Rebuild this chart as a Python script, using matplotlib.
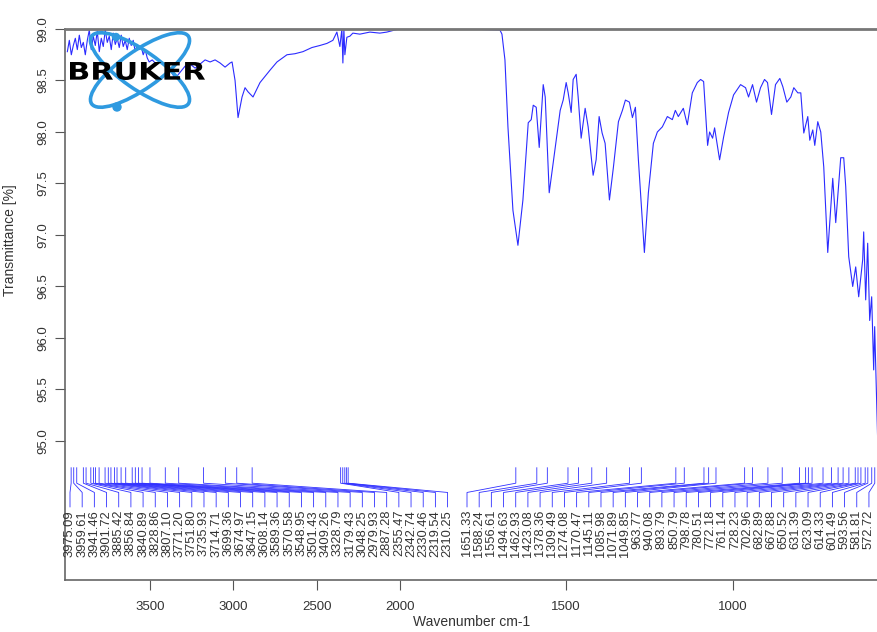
import numpy as np
import matplotlib
matplotlib.use("Agg")
import matplotlib.pyplot as plt
from matplotlib.patches import Ellipse, Circle, PathPatch
from matplotlib.textpath import TextPath
from matplotlib.font_manager import FontProperties
from matplotlib.transforms import Affine2D

plt.rcParams['font.family'] = ['Liberation Sans Narrow', 'Liberation Sans', 'DejaVu Sans']

# spectrum (wavenumber cm-1, transmittance %)
wavenumber = [3998, 3986, 3974, 3962, 3950, 3938, 3926, 3914, 3902, 3890,
              3878, 3866, 3854, 3842, 3830, 3818, 3806, 3794, 3782, 3770,
              3758, 3746, 3734, 3722, 3710, 3698, 3686, 3674, 3662, 3650,
              3638, 3626, 3614, 3602, 3590, 3578, 3566, 3554, 3542, 3530,
              3518, 3506, 3488, 3464, 3440, 3410, 3380, 3350, 3320, 3290,
              3260, 3230, 3200, 3170, 3140, 3110, 3080, 3050, 3020, 3008,
              2990, 2972, 2948, 2930, 2912, 2882, 2840, 2810, 2780, 2738,
              2678, 2630, 2582, 2528, 2480, 2438, 2402, 2378, 2360, 2348,
              2342, 2336, 2330, 2318, 2300, 2282, 2240, 2180, 2120, 2078,
              2030, 2000, 1900, 1800, 1699, 1693, 1684, 1675, 1660, 1645,
              1630, 1614, 1605, 1599, 1590, 1581, 1569, 1563, 1551, 1533,
              1518, 1509, 1500, 1494, 1485, 1479, 1470, 1464, 1455, 1443,
              1434, 1419, 1410, 1401, 1392, 1383, 1370, 1358, 1343, 1331,
              1322, 1310, 1301, 1292, 1283, 1265, 1253, 1238, 1226, 1211,
              1196, 1181, 1172, 1163, 1148, 1136, 1121, 1106, 1096, 1087,
              1075, 1069, 1060, 1054, 1039, 1027, 1012, 997, 976, 961,
              952, 940, 928, 916, 904, 895, 883, 871, 858, 849,
              837, 825, 816, 804, 795, 786, 774, 768, 759, 753,
              744, 735, 726, 714, 699, 690, 675, 666, 660, 651,
              639, 630, 621, 609, 606, 600, 594, 588, 582, 576,
              573, 567, 564]
transmittance = [98.78, 98.89, 98.75, 98.84, 98.91, 98.80, 98.94, 98.82, 98.87, 98.75,
                 98.89, 98.99, 98.80, 98.93, 98.84, 98.98, 98.78, 98.91, 98.83, 98.99,
                 98.87, 98.93, 98.80, 98.96, 98.85, 98.91, 98.82, 98.94, 98.83, 98.89,
                 98.80, 98.91, 98.84, 98.89, 98.78, 98.85, 98.80, 98.83, 98.75, 98.80,
                 98.72, 98.68, 98.70, 98.66, 98.68, 98.64, 98.60, 98.52, 98.58, 98.64,
                 98.66, 98.62, 98.66, 98.70, 98.68, 98.70, 98.67, 98.63, 98.67, 98.68,
                 98.50, 98.14, 98.34, 98.43, 98.39, 98.34, 98.48, 98.54, 98.60, 98.68,
                 98.75, 98.76, 98.78, 98.82, 98.84, 98.86, 98.89, 98.97, 98.83, 99.00,
                 98.67, 99.00, 98.75, 98.92, 98.93, 98.96, 98.95, 98.97, 98.96, 98.97,
                 98.99, 99.00, 99.00, 99.00, 98.99, 98.95, 98.70, 98.05, 97.24, 96.90,
                 97.34, 98.09, 98.12, 98.26, 98.24, 97.85, 98.46, 98.34, 97.41, 97.85,
                 98.21, 98.31, 98.48, 98.38, 98.19, 98.51, 98.56, 98.34, 97.94, 98.23,
                 98.05, 97.58, 97.73, 98.15, 97.99, 97.89, 97.34, 97.66, 98.10, 98.21,
                 98.31, 98.29, 98.14, 98.24, 97.73, 96.83, 97.41, 97.89, 98.00, 98.05,
                 98.15, 98.12, 98.21, 98.15, 98.23, 98.07, 98.38, 98.48, 98.51, 98.49,
                 97.87, 98.00, 97.94, 98.04, 97.73, 97.95, 98.19, 98.36, 98.46, 98.43,
                 98.34, 98.46, 98.29, 98.43, 98.51, 98.48, 98.17, 98.46, 98.52, 98.44,
                 98.29, 98.34, 98.43, 98.38, 98.38, 97.99, 98.15, 97.92, 98.02, 97.87,
                 98.10, 98.00, 97.66, 96.83, 97.55, 97.12, 97.75, 97.75, 97.47, 96.79,
                 96.50, 96.69, 96.40, 96.76, 97.03, 96.37, 96.92, 96.17, 96.40, 95.69,
                 96.11, 95.40, 95.01]

peaks_high = [3975.09, 3959.61, 3941.46, 3901.72, 3885.42, 3856.84, 3840.89, 3828.86,
              3807.10, 3771.20, 3751.80, 3735.93, 3714.71, 3699.36, 3674.97, 3647.15,
              3608.14, 3589.36, 3570.58, 3548.95, 3501.43, 3409.26, 3328.79, 3179.43,
              3048.25, 2979.93, 2887.28, 2355.47, 2342.74, 2330.46, 2319.54, 2310.25]
peaks_low = [1651.33, 1588.24, 1556.61, 1494.63, 1462.93, 1423.08, 1378.36, 1309.49,
             1274.08, 1170.47, 1145.11, 1085.98, 1071.89, 1049.85, 963.77, 940.08,
             893.79, 850.79, 798.78, 780.51, 772.18, 761.14, 728.23, 702.96,
             682.89, 667.88, 650.52, 631.39, 623.09, 614.33, 601.49, 593.56,
             581.81, 572.72]

x_ticks = [3500, 3000, 2500, 2000, 1500, 1000]
y_ticks = [95.0, 95.5, 96.0, 96.5, 97.0, 97.5, 98.0, 98.5, 99.0]


# axis is compressed 2:1 above 2000 cm-1
def fwd(w):
    w = np.asarray(w, dtype=float)
    return np.where(w > 2000, 2000 + (w - 2000) / 2, w)


def inv(u):
    u = np.asarray(u, dtype=float)
    return np.where(u > 2000, 2000 + (u - 2000) * 2, u)


fig = plt.figure(figsize=(8.78, 6.32), dpi=100)
ax = fig.add_axes([65 / 878, 1 - 580 / 632, 813 / 878, 551 / 632])
ax.set_xscale('function', functions=(fwd, inv))
x_left, x_right = 4012, 563
ax.set_xlim(x_left, x_right)
ax.set_ylim(93.65, 99.0)

ax.plot(wavenumber, transmittance, color='#2b2bff', lw=0.8)

# peak annotations
c = '#3030ff'
y_tick_top, y_tick_bot, y_fan, y_lab = 94.74, 94.59, 94.50, 94.36
u_l, u_r = fwd(x_left), fwd(x_right)
groups = [(peaks_high, 70), (peaks_low, 467)]
step = 12.18
for peaks, start_px in groups:
    for i, p in enumerate(peaks):
        frac = (start_px + i * step - 65) / 813
        xl = float(inv(u_l + frac * (u_r - u_l)))
        ax.plot([p, p, xl, xl], [y_tick_top, y_tick_bot, y_fan, y_lab],
                color=c, lw=0.6)
        ax.text(xl, y_lab - 0.03, f'{p:.2f}', rotation=90, ha='center',
                va='top', fontsize=9.3, color='#333333')

ax.set_xticks(x_ticks)
ax.set_xticklabels([str(t) for t in x_ticks])
ax.set_xticks([], minor=True)
ax.set_yticks(y_ticks)
ax.set_yticklabels([f'{t:.1f}' for t in y_ticks], rotation=90, va='center')
ax.tick_params(axis='both', labelsize=9.5, color='#555555', length=7,
               labelcolor='#333333')
ax.tick_params(axis='x', pad=8)
ax.tick_params(axis='y', pad=4)
for s in ['left', 'bottom']:
    ax.spines[s].set_color('#666666')
    ax.spines[s].set_linewidth(1.2)
ax.spines['top'].set_color('#777777')
ax.spines['top'].set_linewidth(2)
ax.spines['right'].set_visible(False)

ax.set_xlabel('Wavenumber cm-1', fontsize=10, color='#333333')
ax.set_ylabel('Transmittance [%]', fontsize=10, color='#333333')
ax.xaxis.set_label_coords(0.5, -0.063)
ax.yaxis.set_label_coords(-0.059, 0.617)

# Bruker logo
lg = fig.add_axes([65 / 878, 1 - 115 / 632, 150 / 878, 86 / 632])
lg.set_xlim(0, 150)
lg.set_ylim(86, 0)
lg.axis('off')
lg.patch.set_alpha(0)
for ang in (35, -35):
    lg.add_patch(Ellipse((75, 41), 118, 38, angle=ang, fill=False,
                         ec='#2f9ae0', lw=2.6))
lg.add_patch(Circle((52, 78), 4, color='#2f9ae0'))
lg.add_patch(Circle((51, 8), 3.5, color='#2f9ae0'))
tp = TextPath((0, 0), 'BRUKER', size=10,
              prop=FontProperties(family='DejaVu Sans', weight='bold'))
ext = tp.get_extents()
tr = (Affine2D().translate(-ext.x0, -ext.y0)
      .scale(135 / ext.width, -18 / ext.height).translate(5, 51))
lg.add_patch(PathPatch(tr.transform_path(tp), color='black', lw=0))

fig.savefig('out.png', dpi=100)
